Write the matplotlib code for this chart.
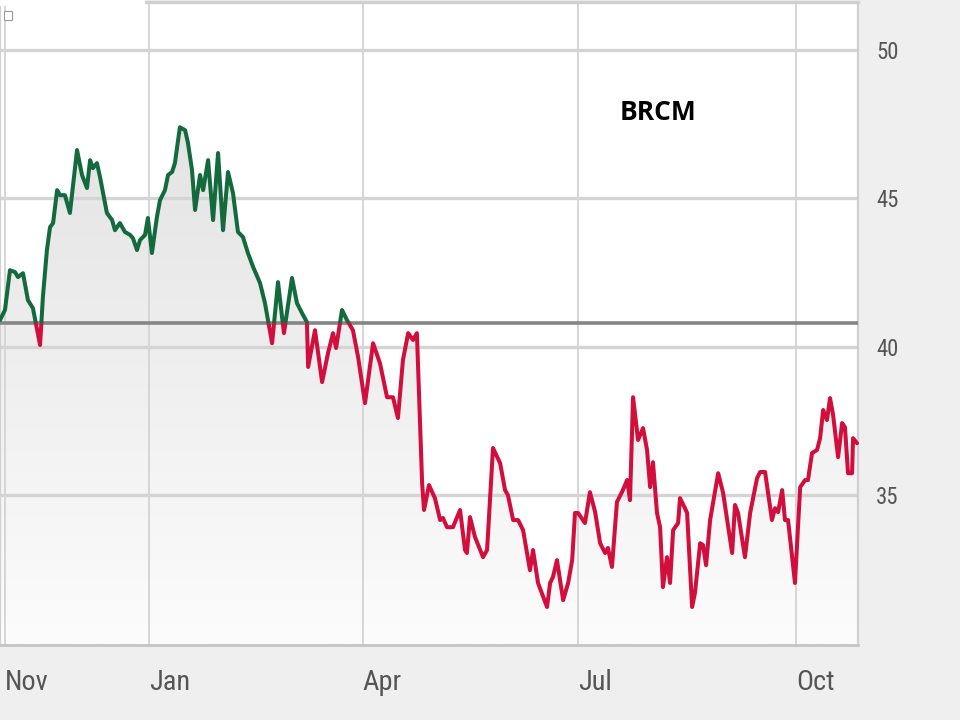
import numpy as np
import pandas as pd
import matplotlib
matplotlib.use("Agg")
import matplotlib.pyplot as plt
from matplotlib.patches import Rectangle
from matplotlib.colors import LinearSegmentedColormap
from matplotlib import font_manager

# ---------------- data ----------------
ticker = "BRCM"
base_date = "2010-10-30"          # day 0 of the x axis
prev_close = 40.8                 # reference (baseline) price
x_end_day = 362.0

days = [0, 2.1, 4.2, 6.3, 7.6, 9.7, 11.8, 13.9, 16.9, 18.1, 19.8, 21.1, 22.4, 24.1, 25.3,
        27.4, 29.5, 32.5, 34.6, 36.7, 38.0, 39.2, 40.9, 42.2, 45.1, 47.3, 48.5, 50.6, 52.7,
        54.9, 56.1, 57.8, 59.1, 61.2, 62.4, 64.1, 66.2, 67.5, 69.6, 70.9, 72.6, 73.8, 75.9,
        78.1, 79.3, 81.0, 82.3, 84.4, 85.7, 87.8, 89.9, 92.0, 94.1, 96.2, 98.3, 100.4, 102.5,
        104.6, 106.8, 109.7, 111.8, 114.8, 117.3, 119.8, 123.2, 125.3, 127.4, 129.5, 130.0,
        132.9, 135.9, 138.4, 140.5, 141.8, 144.3, 146.4, 148.9, 151.1, 154.0, 157.4, 160.3,
        163.3, 165.8, 167.9, 170.0, 172.2, 174.3, 175.9, 177.2, 178.1, 178.9, 181.0, 183.5,
        185.7, 186.9, 188.6, 191.1, 194.1, 196.2, 197.0, 198.3, 200.4, 203.8, 205.5, 208.0,
        211.0, 213.1, 214.3, 216.5, 218.6, 220.7, 223.6, 224.9, 227.0, 230.8, 232.1, 233.3,
        235.0, 237.6, 239.7, 241.4, 242.6, 243.9, 246.8, 248.9, 251.1, 253.2, 255.3, 256.5,
        258.2, 260.3, 262.4, 264.6, 265.8, 267.1, 269.2, 271.3, 273.0, 274.3, 275.5, 277.2,
        278.5, 279.7, 281.4, 282.7, 284.0, 286.1, 286.9, 289.0, 289.9, 292.0, 293.2, 295.4,
        296.6, 297.9, 299.6, 303.0, 305.1, 308.9, 310.1, 311.4, 314.3, 316.5, 319.4, 320.7,
        322.8, 325.7, 327.0, 328.3, 330.0, 331.2, 332.5, 335.4, 337.6, 339.7, 340.9, 342.6,
        344.7, 346.0, 347.3, 348.9, 350.2, 351.5, 353.6, 355.3, 356.5, 357.8, 359.5, 359.9,
        361.6]

prices = [40.90, 41.24, 42.58, 42.52, 42.35, 42.48, 41.57, 41.30, 40.06, 41.68, 43.26, 44.03,
          44.17, 45.28, 45.11, 45.11, 44.51, 46.63, 45.79, 45.35, 46.29, 46.02, 46.19, 45.72,
          44.51, 44.27, 43.93, 44.17, 43.87, 43.77, 43.66, 43.26, 43.60, 43.77, 44.34, 43.16,
          44.37, 44.94, 45.28, 45.79, 45.89, 46.19, 47.40, 47.30, 46.87, 45.96, 44.61, 45.79,
          45.28, 46.29, 44.27, 46.53, 43.93, 45.89, 45.18, 43.87, 43.70, 43.16, 42.69, 42.15,
          41.47, 40.12, 42.18, 40.46, 42.32, 41.47, 41.14, 40.83, 39.32, 40.56, 38.81, 39.79,
          40.46, 39.96, 41.24, 40.90, 40.56, 39.65, 38.10, 40.12, 39.45, 38.30, 38.30, 37.60,
          39.55, 40.46, 40.23, 40.46, 37.53, 35.41, 34.50, 35.34, 34.90, 34.16, 34.23, 33.92,
          33.92, 34.50, 33.15, 33.05, 34.26, 33.59, 32.91, 33.15, 36.59, 36.08, 35.17, 35.00,
          34.16, 34.16, 33.82, 32.47, 33.15, 32.04, 31.23, 32.04, 32.24, 32.81, 31.46, 32.04,
          32.81, 34.40, 34.40, 34.06, 35.10, 34.43, 33.38, 33.05, 33.22, 32.58, 34.77, 35.10,
          35.51, 34.83, 38.30, 36.86, 37.26, 36.52, 35.27, 36.11, 34.40, 33.92, 31.90, 32.91,
          32.04, 33.82, 34.06, 34.90, 34.56, 34.40, 31.23, 31.70, 33.38, 33.32, 32.64, 34.16,
          35.74, 35.07, 33.05, 34.67, 34.40, 32.91, 34.40, 35.57, 35.78, 35.78, 34.16, 34.56,
          34.43, 35.17, 34.16, 34.16, 32.04, 35.27, 35.51, 35.51, 36.42, 36.52, 36.92, 37.87,
          37.53, 38.27, 37.70, 36.28, 37.43, 37.29, 35.74, 35.74, 36.92, 36.75]

y_ticks = [35, 40, 45, 50]
month_starts = ["2010-11-01", "2011-01-01", "2011-04-01", "2011-07-01", "2011-10-01"]
month_labels = ["Nov", "Jan", "Apr", "Jul", "Oct"]

# ---------------- fonts ----------------
def find_family(names):
    for name in names:
        try:
            font_manager.findfont(font_manager.FontProperties(family=name),
                                  fallback_to_default=False)
            return name
        except Exception:
            continue
    return None

narrow = find_family(["Liberation Sans Narrow", "Noto Sans ExtraCondensed",
                      "Noto Sans Condensed", "DejaVu Sans Condensed",
                      "Roboto Condensed", "Open Sans Condensed"])

# ---------------- figure ----------------
W, H = 960, 720
fig = plt.figure(figsize=(W / 100, H / 100), dpi=100, facecolor="#efefef")
ax = fig.add_axes([0, 75 / H, 858 / W, (645 - 2) / H])
ax.set_facecolor("white")

if narrow is not None:
    tick_family = narrow
    probe = fig.text(0, 0, "Nov", family=narrow, fontsize=10)
    fig.canvas.draw()
    wpx = probe.get_window_extent().width
    probe.remove()
    xsize = 10 * 44.0 / max(wpx, 1)
    ysize = xsize * 0.8
else:
    tick_family, xsize, ysize = "DejaVu Sans", 17, 14

x = np.array(days, dtype=float)
y = np.array(prices, dtype=float)
ymin, ymax = 29.95, 51.62

# gradient fill under the line
fill = ax.fill_between(x, y, ymin, facecolor="none", edgecolor="none", zorder=1)
grad = np.linspace(0, 1, 256).reshape(-1, 1)
cmap = LinearSegmentedColormap.from_list("g", ["#fcfcfc", "#e3e3e3"])
im = ax.imshow(grad, cmap=cmap, aspect="auto", origin="lower",
               extent=[0, x_end_day, ymin, 48.0], zorder=1, interpolation="bilinear")
im.set_clip_path(fill.get_paths()[0], transform=ax.transData)
ax.set_xlim(0, x_end_day)
ax.set_ylim(ymin, ymax)

# ticks
tick_days = [(pd.Timestamp(m) - pd.Timestamp(base_date)).days for m in month_starts]
ax.set_xticks(tick_days)
ax.set_xticklabels(month_labels, ha="left", family=tick_family, fontsize=xsize, color="#555555")
ax.set_yticks(y_ticks)
ax.set_yticklabels([str(t) for t in y_ticks], family=tick_family, fontsize=ysize, color="#555555")
ax.yaxis.tick_right()
ax.tick_params(axis="both", length=0)
ax.tick_params(axis="x", pad=17)
ax.tick_params(axis="y", pad=13)
for lab in ax.get_yticklabels():
    lab.set_horizontalalignment("left")

# grid
for t in y_ticks:
    ax.axhline(t, color="#d4d4d4", lw=2.4, zorder=2)
for d in tick_days:
    ax.axvline(d, color="#d6d6d6", lw=1.4, zorder=2)

# baseline (previous close)
ax.axhline(prev_close, color="#858585", lw=2.6, zorder=2.6)

# price line: green above baseline, red below
big = 1000
g_line, = ax.plot(x, y, color="#136b3d", lw=2.9, zorder=3,
                  solid_joinstyle="round", solid_capstyle="round")
r_line, = ax.plot(x, y, color="#d20f3c", lw=2.9, zorder=3,
                  solid_joinstyle="round", solid_capstyle="round")
g_clip = Rectangle((-big, prev_close), 2 * big + x_end_day, big, transform=ax.transData)
r_clip = Rectangle((-big, prev_close - big), 2 * big + x_end_day, big, transform=ax.transData)
g_line.set_clip_path(g_clip)
r_line.set_clip_path(r_clip)

# spines
for s in ["left", "right", "top"]:
    ax.spines[s].set_color("#d0d0d0")
    ax.spines[s].set_linewidth(1.6)
ax.spines["top"].set_linewidth(2.4)
ax.spines["bottom"].set_color("#c4c4c4")
ax.spines["bottom"].set_linewidth(2.0)

# title
fig.text(658 / W, 1 - 113 / H, ticker, ha="center", va="center",
         family="Open Sans", fontweight="bold", fontsize=19, color="black")

# top-left white box with small icon
fig.patches.append(Rectangle((0, 1 - 6 / H), 145 / W, 6 / H, transform=fig.transFigure,
                             facecolor="white", edgecolor="none", zorder=10))
fig.patches.append(Rectangle((4 / W, 1 - 20 / H), 8 / W, 9 / H, transform=fig.transFigure,
                             facecolor="white", edgecolor="#9a9a9a", lw=0.8, zorder=11))

fig.savefig("out.png", dpi=100, facecolor=fig.get_facecolor())
